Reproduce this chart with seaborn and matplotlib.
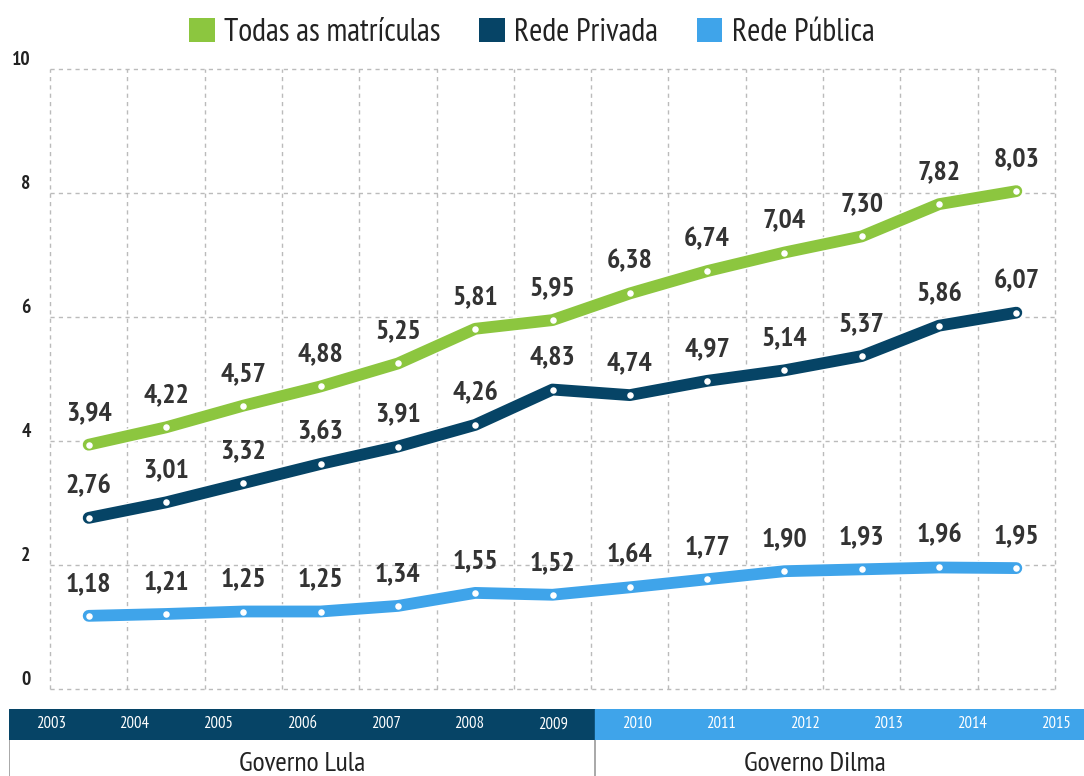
import numpy as np
import pandas as pd
import matplotlib
matplotlib.use("Agg")
import matplotlib.pyplot as plt
import matplotlib.patheffects as pe
from matplotlib.patches import Patch
import seaborn as sns

# ------------------------
# Data
# ------------------------
years = list(range(2003, 2016))
todas = [3.94, 4.22, 4.57, 4.88, 5.25, 5.81, 5.95, 6.38, 6.74, 7.04, 7.30, 7.82, 8.03]
privada = [2.76, 3.01, 3.32, 3.63, 3.91, 4.26, 4.83, 4.74, 4.97, 5.14, 5.37, 5.86, 6.07]
publica = [1.18, 1.21, 1.25, 1.25, 1.34, 1.55, 1.52, 1.64, 1.77, 1.90, 1.93, 1.96, 1.95]
series_names = ["Todas as matrículas", "Rede Privada", "Rede Pública"]
governos = ["Governo Lula", "Governo Dilma"]
lula_years = 7  # 2003-2009

GREEN = "#8cc63f"
NAVY = "#064466"
LIGHT = "#3fa4ea"
palette = {series_names[0]: GREEN, series_names[1]: NAVY, series_names[2]: LIGHT}

df = pd.DataFrame({
    "ano": years * 3,
    "valor": todas + privada + publica,
    "serie": [series_names[0]] * 13 + [series_names[1]] * 13 + [series_names[2]] * 13,
})

sns.set_theme(style="white")
FONT = ["PT Sans Narrow", "Roboto Condensed", "Fira Sans Condensed", "Archivo Narrow", "DejaVu Sans"]
plt.rcParams["font.family"] = FONT

W, H = 1084, 776
fig = plt.figure(figsize=(W / 100, H / 100), dpi=100)

# main axes in pixel terms
left, right, top, bottom = 50, 1055, 69, 689
ax = fig.add_axes([left / W, 1 - bottom / H, (right - left) / W, (bottom - top) / H])

sns.lineplot(data=df, x="ano", y="valor", hue="serie", palette=palette,
             linewidth=8.5, legend=False, ax=ax, zorder=3)
for line in ax.get_lines():
    line.set_solid_capstyle("round")
    line.set_solid_joinstyle("round")
    line.set_path_effects([pe.Stroke(linewidth=10.5, foreground="white"), pe.Normal()])

sns.scatterplot(data=df, x="ano", y="valor", color="white", s=22, linewidth=0,
                ax=ax, zorder=5, legend=False)

for _, r in df.iterrows():
    ax.annotate(f"{r['valor']:.2f}".replace(".", ","), (r["ano"], r["valor"]),
                xytext=(0, 23), textcoords="offset points", ha="center", va="center",
                fontsize=20, fontweight="bold", color="#333333", zorder=6)

ax.set_xlim(2002.5, 2015.5)
ax.set_ylim(0, 10)
ax.set_xticks(np.arange(2002.5, 2016, 1))
ax.set_xticklabels([])
ax.set_yticks([0, 2, 4, 6, 8, 10])
ax.set_yticklabels(["0", "2", "4", "6", "8", "10"], fontsize=14, fontweight="bold", color="#222222")
for lab in ax.get_yticklabels():
    lab.set_verticalalignment("bottom")
ax.tick_params(axis="y", length=0, pad=14)
ax.tick_params(axis="x", length=0)
ax.grid(True, color="#bbbbbb", linestyle=(0, (3, 3)), linewidth=1)
for gl in ax.get_xgridlines() + ax.get_ygridlines():
    gl.set_clip_on(False)
ax.set_xlabel("")
ax.set_ylabel("")
for s in ax.spines.values():
    s.set_visible(False)

# legend
handles = [Patch(facecolor=palette[n], edgecolor="none") for n in series_names]
fig.legend(handles, series_names, loc="center", bbox_to_anchor=(532 / W, 1 - 33 / H),
           ncol=3, frameon=False, fontsize=23, handlelength=0.8, handleheight=0.8,
           handletextpad=0.3, columnspacing=1.2, labelcolor="#222222")

# year band
bl, br, bt, bb = 9, 1084, 709, 740
step = 83.75
band = fig.add_axes([bl / W, 1 - bb / H, (br - bl) / W, (bb - bt) / H])
band.set_xlim(0, (br - bl) / step)
band.set_ylim(0, 1)
band.axvspan(0, lula_years, color=NAVY)
band.axvspan(lula_years, (br - bl) / step, color=LIGHT)
for i, y in enumerate(years):
    band.text(i + 0.5, 0.5, str(y), ha="center", va="center", color="white",
              fontsize=12, family="PT Sans Narrow")
band.axis("off")

# governo labels
gov = fig.add_axes([bl / W, 0, (br - bl) / W, (H - bb) / H])
gov.set_xlim(0, (br - bl) / step)
gov.set_ylim(0, 1)
gov.axvline(0, color="#999999", linewidth=1.2)
gov.axvline(lula_years, color="#999999", linewidth=1.2)
gov.text(3.5, 0.34, governos[0], ha="center", va="center", fontsize=20, color="#222222")
gov.text((lula_years + (br - bl) / step) / 2 - 0.3, 0.34, governos[1], ha="center", va="center",
         fontsize=20, color="#222222")
gov.axis("off")

fig.savefig("out.png", dpi=100)
